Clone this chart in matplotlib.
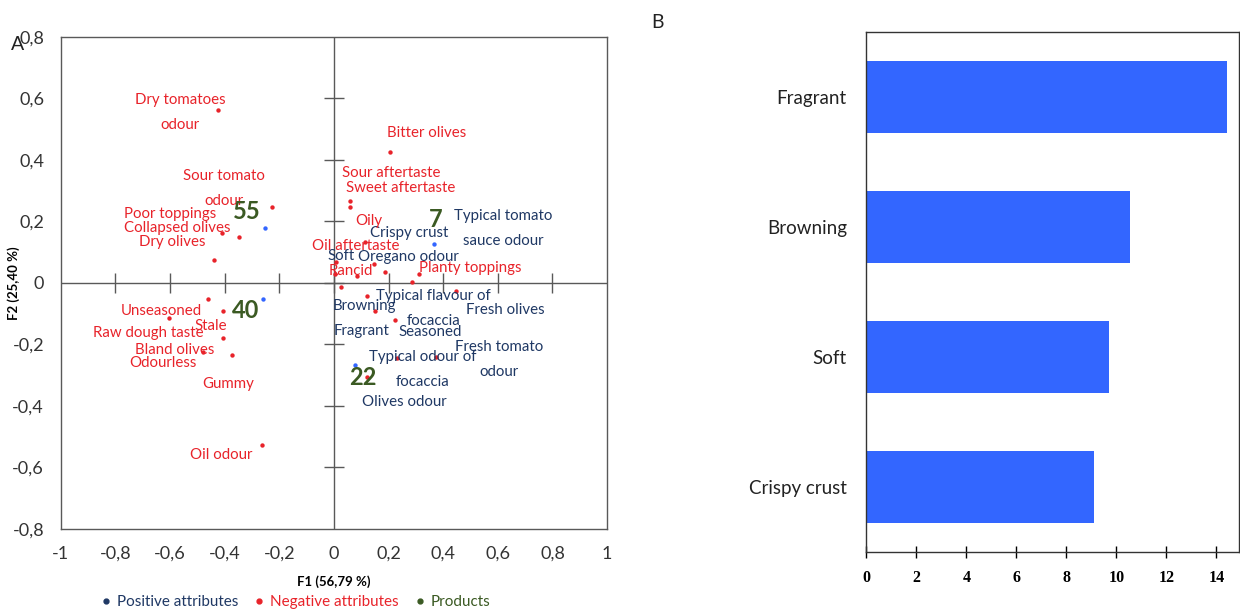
#!/usr/bin/env python3
"""PCA biplot of focaccia attributes (A) next to a bar chart of top drivers (B)."""

import matplotlib
matplotlib.use("Agg")
import matplotlib.pyplot as plt
from matplotlib.lines import Line2D
from matplotlib.ticker import FuncFormatter

# --- data -------------------------------------------------------------------
pos_names = ["Typical tomato\nsauce odour", "Crispy crust", "Soft", "Oregano odour",
             "Typical flavour of\nfocaccia", "Fresh olives", "Browning", "Fragrant",
             "Seasoned", "Fresh tomato\nodour", "Typical odour of\nfocaccia", "Olives odour"]
pos_f1 = [0.285, 0.145, 0.085, 0.188, 0.120, 0.446, 0.026, 0.151, 0.222, 0.374, 0.232, 0.121]
pos_f2 = [0.002, 0.060, 0.022, 0.036, -0.042, -0.028, -0.014, -0.092, -0.121, -0.240, -0.245, -0.305]

neg_names = ["Dry tomatoes\nodour", "Sour tomato\nodour", "Poor toppings", "Collapsed olives",
             "Dry olives", "Unseasoned", "Raw dough taste", "Stale", "Bland olives",
             "Odourless", "Gummy", "Oil odour", "Bitter olives", "Sour aftertaste",
             "Sweet aftertaste", "Oily", "Oil aftertaste", "Rancid", "Planty toppings"]
neg_f1 = [-0.423, -0.228, -0.348, -0.408, -0.439, -0.461, -0.603, -0.407, -0.478,
          -0.407, -0.372, -0.262, 0.207, 0.057, 0.057, 0.115, 0.006, 0.005, 0.310]
neg_f2 = [0.561, 0.246, 0.149, 0.163, 0.075, -0.054, -0.114, -0.092, -0.224,
          -0.180, -0.234, -0.526, 0.425, 0.265, 0.248, 0.132, 0.068, 0.029, 0.028]

prod_names = ["55", "40", "7", "22"]
prod_f1 = [-0.253, -0.261, 0.367, 0.078]
prod_f2 = [0.178, -0.052, 0.127, -0.267]

bar_labels = ["Crispy crust", "Soft", "Browning", "Fragrant"]
bar_values = [9.10, 9.69, 10.54, 14.42]

# label offsets from their point, in pixels (layout only)
pos_off = [(91, 54), (36, 31), (-16, 20), (23, 15), (67, -13), (50, -19),
           (23, -19), (-14, -20), (36, -12), (63, -3), (25, -11), (37, -25)]
neg_off = [(-38, -2), (-48, 19), (-69, 23), (-45, 5), (-42, 18), (-47, -12),
           (-21, -15), (-12, -15), (-29, 2), (-60, -25), (-4, -29), (-41, -10),
           (36, 19), (42, 28), (51, 19), (3, 21), (20, 16), (16, 3), (52, 6)]
prod_off = [(-18, 17), (-17, -12), (2, 24), (8, -12)]

NAVY = "#1f3864"
RED = "#e8232a"
GREEN = "#3b5a23"
DOT_BLUE = "#3366ff"
FRAME = "#595959"

plt.rcParams["font.family"] = ["Lato", "DejaVu Sans"]

fig = plt.figure(figsize=(12.4, 6.12), dpi=100)

# --- A: biplot ----------------------------------------------------------------
ax = fig.add_axes([0.049, 0.1356, 0.4406, 0.8044])
ax.set_xlim(-1, 1)
ax.set_ylim(-0.8, 0.8)
xt = [-1, -0.8, -0.6, -0.4, -0.2, 0, 0.2, 0.4, 0.6, 0.8, 1]
yt = [-0.8, -0.6, -0.4, -0.2, 0, 0.2, 0.4, 0.6, 0.8]
ax.set_xticks(xt)
ax.set_yticks(yt)
comma = FuncFormatter(lambda v, p: ("%g" % round(v, 2)).replace(".", ","))
ax.xaxis.set_major_formatter(comma)
ax.yaxis.set_major_formatter(comma)
ax.tick_params(length=0, labelsize=13, colors="#333333", pad=12)
for s in ax.spines.values():
    s.set_color(FRAME)
    s.set_linewidth(1.0)

ax.axhline(0, color=FRAME, lw=1.0, zorder=1)
ax.axvline(0, color=FRAME, lw=1.0, zorder=1)
ax.plot(xt[1:-1], [0] * (len(xt) - 2), ls="none", marker="|", ms=14, mew=1.0, color=FRAME, zorder=1)
ax.plot([0] * (len(yt) - 2), yt[1:-1], ls="none", marker="_", ms=14, mew=1.0, color=FRAME, zorder=1)

ax.scatter(pos_f1 + neg_f1, pos_f2 + neg_f2, s=10, color=RED, zorder=3, linewidths=0)
ax.scatter(prod_f1, prod_f2, s=10, color=DOT_BLUE, zorder=3, linewidths=0)

for name, x, y, off in zip(pos_names, pos_f1, pos_f2, pos_off):
    ax.annotate(name, (x, y), xytext=off, textcoords="offset pixels", ha="center", va="center",
                color=NAVY, fontsize=10.8, linespacing=2.0, zorder=4)
for name, x, y, off in zip(neg_names, neg_f1, neg_f2, neg_off):
    ax.annotate(name, (x, y), xytext=off, textcoords="offset pixels", ha="center", va="center",
                color=RED, fontsize=10.8, linespacing=2.0, zorder=4)
for name, x, y, off in zip(prod_names, prod_f1, prod_f2, prod_off):
    ax.annotate(name, (x, y), xytext=off, textcoords="offset pixels", ha="center", va="center",
                color=GREEN, fontsize=17, fontweight="bold", zorder=5)

ax.set_xlabel("F1 (56,79 %)", fontsize=9.5, fontweight="bold", labelpad=10)
ax.set_ylabel("F2 (25,40 %)", fontsize=9.5, fontweight="bold")
ax.yaxis.set_label_coords(-0.075, 0.5)

handles = [Line2D([], [], ls="none", marker="o", ms=3.5, color=c) for c in (NAVY, RED, GREEN)]
leg = fig.legend(handles, ["Positive attributes", "Negative attributes", "Products"],
                 loc="center", bbox_to_anchor=(0.238, 0.016), ncol=3, frameon=False,
                 fontsize=11, handletextpad=0.3, columnspacing=1.0, handlelength=0.8,
                 borderpad=0)
for t, c in zip(leg.get_texts(), (NAVY, RED, GREEN)):
    t.set_color(c)

fig.text(0.009, 0.918, "A", fontsize=14, color="#222222")
fig.text(0.525, 0.955, "B", fontsize=14, color="#222222")

# --- B: bars ------------------------------------------------------------------
bx = fig.add_axes([0.6986, 0.0976, 0.3006, 0.8502])
bx.barh(range(len(bar_values)), bar_values, height=0.554, color=DOT_BLUE)
bx.set_xlim(0, 14.9)
bx.set_ylim(-0.5, len(bar_values) - 0.5)
bx.set_xticks(range(0, 15, 2))
bx.set_yticks(range(len(bar_labels)))
bx.set_yticklabels(bar_labels, fontsize=13.5, color="#222222")
bx.tick_params(axis="y", length=0, pad=14)
bx.tick_params(axis="x", direction="inout", length=9, width=1.0, pad=8)
for lab in bx.get_xticklabels():
    lab.set_fontfamily("Liberation Serif")
    lab.set_fontweight("bold")
    lab.set_fontsize(11.5)
for s in bx.spines.values():
    s.set_color("#333333")
    s.set_linewidth(1.0)

fig.savefig("out.png", dpi=100)
